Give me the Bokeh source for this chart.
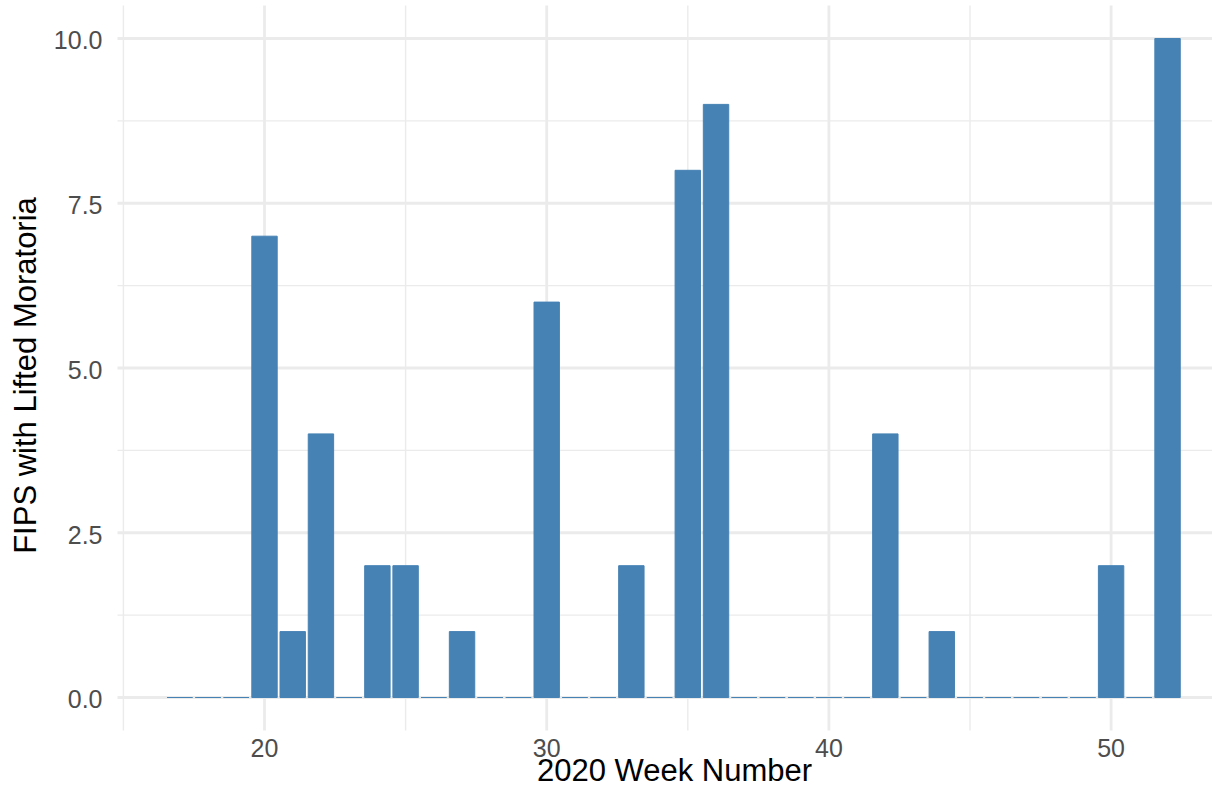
import math
from bokeh.plotting import figure
from bokeh.models import Range1d
from bokeh.core.properties import value
from bokeh.embed import file_html
from bokeh.resources import INLINE

weeks = list(range(17, 53))
lifted = [0, 0, 0, 7, 1, 4, 0, 2, 2, 0, 1, 0, 0, 6, 0, 0, 2, 0, 8, 9,
          0, 0, 0, 0, 0, 4, 0, 1, 0, 0, 0, 0, 0, 2, 0, 10]

x_major = [20, 30, 40, 50]
x_minor = [15, 25, 35, 45]
x_labels = ["20", "30", "40", "50"]
y_major = [0, 2.5, 5, 7.5, 10]
y_minor = [1.25, 3.75, 6.25, 8.75]
y_labels = ["0.0", "2.5", "5.0", "7.5", "10.0"]
x_title = "2020 Week Number"
y_title = "FIPS with Lifted Moratoria"

FONT = value("Liberation Sans")
BAR = "#4682B4"
GRID = "#EBEBEB"
TICK_COL = "#4D4D4D"

W, H = 1212, 787
PXW = 28.22      # pixels per week
PXU = 65.9       # pixels per unit
X20 = 264        # pixel of week 20
Y0 = 697         # pixel of value 0
PANEL_L, PANEL_R, PANEL_T, PANEL_B = 117, 1228, 5, 730
TICK_SHIFT = 8   # renderer places alphabetic baseline lower than asked
TITLE_SHIFT = 10


def xd(px):
    return 20 + (px - X20) / PXW


def yd(py):
    return (Y0 - py) / PXU


p = figure(width=W, height=H, output_backend="svg", toolbar_location=None,
           x_range=Range1d(xd(0), xd(W)), y_range=Range1d(yd(H), yd(0)),
           x_axis_location=None, y_axis_location=None,
           min_border_left=0, min_border_right=0, min_border_top=0,
           min_border_bottom=0)
p.title.visible = False
p.grid.visible = False
p.outline_line_color = None
p.background_fill_color = "white"
p.border_fill_color = "white"

# grid (ggplot2 theme_minimal style)
p.segment(x0=x_minor, x1=x_minor, y0=[yd(PANEL_B)] * len(x_minor),
          y1=[yd(PANEL_T)] * len(x_minor), line_color=GRID, line_width=1.4)
p.segment(x0=[xd(PANEL_L)] * len(y_minor), x1=[xd(PANEL_R)] * len(y_minor),
          y0=y_minor, y1=y_minor, line_color=GRID, line_width=1.4)
p.segment(x0=x_major, x1=x_major, y0=[yd(PANEL_B)] * len(x_major),
          y1=[yd(PANEL_T)] * len(x_major), line_color=GRID, line_width=2.8)
p.segment(x0=[xd(PANEL_L)] * len(y_major), x1=[xd(PANEL_R)] * len(y_major),
          y0=y_major, y1=y_major, line_color=GRID, line_width=2.8)

# bars
p.vbar(x=weeks, top=lifted, bottom=0, width=0.9, fill_color=BAR,
       line_color=BAR, line_width=1)

# tick labels
p.text(x=x_major, y=[yd(755 - TICK_SHIFT)] * len(x_major), text=x_labels,
       text_font=FONT, text_font_size="25px", text_color=TICK_COL,
       text_align="center", text_baseline="alphabetic")
p.text(x=[xd(102)] * len(y_major),
       y=[v - (9.8 - TICK_SHIFT) / PXU for v in y_major],
       text=y_labels, text_font=FONT, text_font_size="25px",
       text_color=TICK_COL, text_align="right", text_baseline="alphabetic")

# axis titles
p.text(x=[xd(674)], y=[yd(780 - TITLE_SHIFT)], text=[x_title], text_font=FONT,
       text_font_size="31px", text_color="black", text_align="center",
       text_baseline="alphabetic")
p.text(x=[xd(35 - TITLE_SHIFT)], y=[yd(375)], text=[y_title], text_font=FONT,
       text_font_size="31px", text_color="black", text_align="center",
       text_baseline="alphabetic", angle=math.pi / 2)

open("out.html", "w").write(file_html(p, INLINE))
